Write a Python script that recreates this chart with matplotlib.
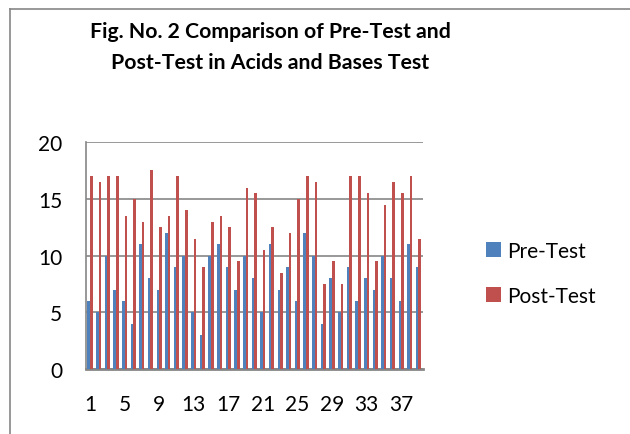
import matplotlib
matplotlib.use("Agg")
import matplotlib.pyplot as plt
import numpy as np

plt.rcParams['font.family'] = ['Lato', 'DejaVu Sans']

# scores, students 1..39
students = list(range(1, 40))
pre_test = [6, 5, 10, 7, 6, 4, 11, 8, 7, 12,
            9, 10, 5, 3, 10, 11, 9, 7, 10, 8,
            5, 11, 7, 9, 6, 12, 10, 4, 8, 5,
            9, 6, 8, 7, 10, 8, 6, 11, 9]
post_test = [17, 16.5, 17, 17, 13.5, 15, 13, 17.5, 12.5, 13.5,
             17, 14, 11.5, 9, 13, 13.5, 12.5, 9.5, 16, 15.5,
             10.5, 12.5, 8.5, 12, 15, 17, 16.5, 7.5, 9.5, 7.5,
             17, 17, 15.5, 9.5, 14.5, 16.5, 15.5, 17, 11.5]
xtick_labels = [1, 5, 9, 13, 17, 21, 25, 29, 33, 37]
yticks = [0, 5, 10, 15, 20]

blue = "#4F81BD"
red = "#C0504D"
grid_gray = "#868686"

fig = plt.figure(figsize=(6.3, 4.35), dpi=100)
ax = fig.add_axes([0.136, 0.149, 0.535, 0.522])

x = np.array(students)
w = 0.3
ax.bar(x - w / 2, pre_test, width=w, color=blue, label="Pre-Test", zorder=3)
ax.bar(x + w / 2, post_test, width=w, color=red, label="Post-Test", zorder=3)

ax.set_xlim(0.5, 39.5)
ax.set_ylim(0, 20)
ax.set_yticks(yticks)
ax.set_xticks(xtick_labels)
ax.set_xticklabels([str(v) for v in xtick_labels])
ax.tick_params(axis="both", length=0, labelsize=15)
ax.tick_params(axis="y", pad=17)
ax.tick_params(axis="x", pad=18)

ax.yaxis.grid(True, color=grid_gray, linewidth=1.2, zorder=0)
ax.set_axisbelow(True)
for s in ["right", "top"]:
    ax.spines[s].set_visible(False)
ax.spines["left"].set_color(grid_gray)
ax.spines["left"].set_linewidth(1.2)
ax.spines["bottom"].set_color(grid_gray)
ax.spines["bottom"].set_linewidth(2)

fig.text(0.429, 0.927, "Fig. No. 2 Comparison of Pre-Test and",
         ha="center", va="center", fontsize=15.3, fontweight="bold")
fig.text(0.429, 0.855, "Post-Test in Acids and Bases Test",
         ha="center", va="center", fontsize=15.3, fontweight="bold")

leg = fig.legend(loc="center left", bbox_to_anchor=(0.771, 0.37),
                 frameon=False, fontsize=15, handlelength=0.72,
                 handleheight=0.72, handletextpad=0.3, labelspacing=1.2,
                 borderpad=0, borderaxespad=0)

# chart border (only top and left edges are inside the picture)
fig.add_artist(plt.Line2D([0.016, 1.0], [0.977, 0.977], color=grid_gray, linewidth=1.2))
fig.add_artist(plt.Line2D([0.016, 0.016], [0.0, 0.977], color=grid_gray, linewidth=1.2))

fig.savefig("out.png", dpi=100)
